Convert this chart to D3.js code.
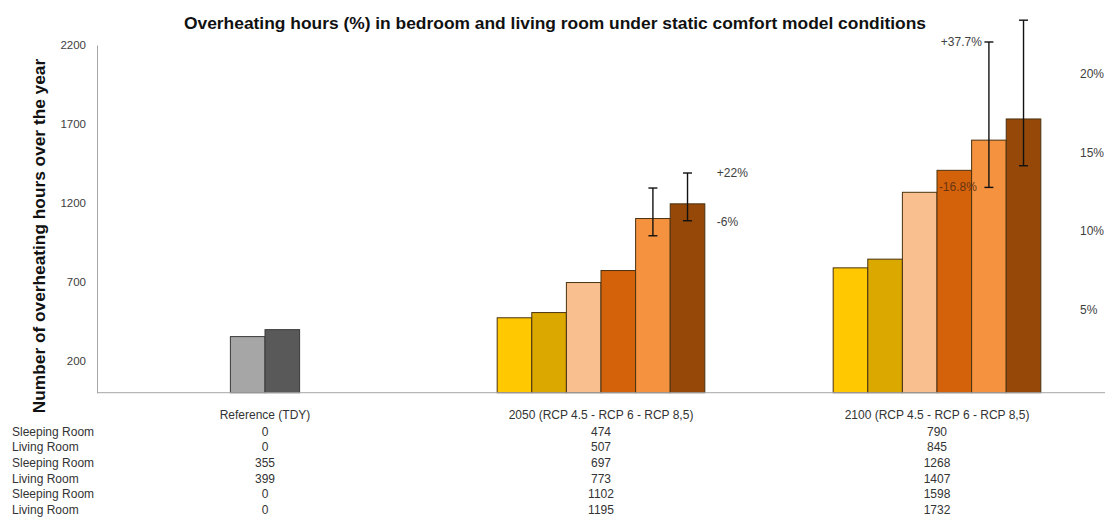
<!DOCTYPE html>
<html>
<head>
<meta charset="utf-8">
<script src="https://cdn.jsdelivr.net/npm/d3@7"></script>
<style>
  body { margin: 0; background: #fff; }
  text { font-family: "Liberation Sans", Arial, sans-serif; }
</style>
</head>
<body>
<script>
const width = 1107;
const height = 517;

// categories (table columns)
const categories = ["Reference (TDY)", "2050 (RCP 4.5 - RCP 6 - RCP 8,5)", "2100 (RCP 4.5 - RCP 6 - RCP 8,5)"];
const rowLabels = ["Sleeping Room", "Living Room", "Sleeping Room", "Living Room", "Sleeping Room", "Living Room"];

// hours per series, one value per category
const sleep45 = [0, 474, 790];
const living45 = [0, 507, 845];
const sleep60 = [355, 697, 1268];
const living60 = [399, 773, 1407];
const sleep85 = [0, 1102, 1598];
const living85 = [0, 1195, 1732];
const series = [sleep45, living45, sleep60, living60, sleep85, living85];

const seriesColors = ["#FFC800", "#DBA800", "#F9BF8F", "#D3620B", "#F59240", "#954808"];
const refColors = ["#A6A6A6", "#A6A6A6", "#A6A6A6", "#595959", "#595959", "#595959"];

// error bars (low / high) for the RCP 8.5 series
const errLowSleep85 = [null, 993, 1299];
const errHighSleep85 = [null, 1295, 2219];
const errLowLiving85 = [null, 1088, 1436];
const errHighLiving85 = [null, 1390, 2357];

const yTicks = [200, 700, 1200, 1700, 2200];
const pctTicks = [5, 10, 15, 20];

const svg = d3.select("body").append("svg")
    .attr("width", width)
    .attr("height", height);

const x = d3.scaleBand()
    .domain(categories)
    .range([97, 1105])
    .paddingInner(0.382)
    .paddingOuter(0.191);

const xs = d3.scaleBand()
    .domain(d3.range(series.length))
    .range([0, x.bandwidth()]);

const y = d3.scaleLinear().domain([0, 2200]).range([392.7, 45]);
const yPct = d3.scaleLinear().domain([0, 22]).range([388.5, 43]);

// title
svg.append("text")
    .attr("x", 555)
    .attr("y", 29)
    .attr("text-anchor", "middle")
    .attr("font-size", 17.4)
    .attr("font-weight", "bold")
    .attr("fill", "#111")
    .text("Overheating hours (%) in bedroom and living room under static comfort model conditions");

svg.append("text")
    .attr("transform", "translate(39,236) rotate(-90)")
    .attr("text-anchor", "middle")
    .attr("dominant-baseline", "central")
    .attr("font-size", 17.3)
    .attr("font-weight", "bold")
    .attr("fill", "#111")
    .text("Number of overheating hours over the year");

// left axis
const yAxis = svg.append("g")
    .attr("transform", "translate(97,0)")
    .call(d3.axisLeft(y).tickValues(yTicks).tickFormat(d3.format("d")).tickSize(0).tickPadding(11));
yAxis.select(".domain").attr("stroke", "#A6A6A6");
yAxis.selectAll("text").attr("font-size", 11.5).attr("fill", "#404040")
    .attr("font-family", "Liberation Sans, Arial, sans-serif");

// right axis labels only
svg.append("g").selectAll("text")
    .data(pctTicks)
    .join("text")
    .attr("x", 1080)
    .attr("y", d => yPct(d))
    .attr("dominant-baseline", "central")
    .attr("font-size", 12)
    .attr("fill", "#404040")
    .text(d => d + "%");

// bars
const groups = svg.append("g").selectAll("g")
    .data(categories)
    .join("g")
    .attr("transform", d => `translate(${x(d)},0)`);

groups.selectAll("rect")
    .data((c, ci) => series.map((s, si) => ({ci, si, v: s[ci]})).filter(d => d.v > 0))
    .join("rect")
    .attr("x", d => xs(d.si))
    .attr("y", d => y(d.v))
    .attr("width", xs.bandwidth())
    .attr("height", d => y(0) - y(d.v))
    .attr("fill", d => d.ci === 0 ? refColors[d.si] : seriesColors[d.si])
    .attr("stroke", d => d.ci === 0 ? "#3a3a3a" : "#4a3210")
    .attr("stroke-width", 1);

// baseline
svg.append("line")
    .attr("x1", 97).attr("x2", 1105)
    .attr("y1", y(0)).attr("y2", y(0))
    .attr("stroke", "#A6A6A6");

// error bars
const errs = [];
[[4, errLowSleep85, errHighSleep85], [5, errLowLiving85, errHighLiving85]].forEach(([si, lo, hi]) => {
    categories.forEach((c, ci) => {
        if (lo[ci] != null) errs.push({c, si, lo: lo[ci], hi: hi[ci]});
    });
});
const eb = svg.append("g").attr("stroke", "#111").attr("stroke-width", 1.4);
errs.forEach(e => {
    const cx = x(e.c) + xs(e.si) + xs.bandwidth() / 2;
    eb.append("line").attr("x1", cx).attr("x2", cx).attr("y1", y(e.lo)).attr("y2", y(e.hi));
    eb.append("line").attr("x1", cx - 4.5).attr("x2", cx + 4.5).attr("y1", y(e.lo)).attr("y2", y(e.lo));
    eb.append("line").attr("x1", cx - 4.5).attr("x2", cx + 4.5).attr("y1", y(e.hi)).attr("y2", y(e.hi));
});

// change labels next to error bars
const c50 = categories[1], c00 = categories[2];
const notes = [
    {t: "+22%", v: errHighLiving85[1], xx: x(c50) + xs(5) + xs.bandwidth() + 12, anchor: "start", fill: "#404040"},
    {t: "-6%", v: errLowLiving85[1] - 8, xx: x(c50) + xs(5) + xs.bandwidth() + 12, anchor: "start", fill: "#404040"},
    {t: "+37.7%", v: errHighSleep85[2], xx: x(c00) + xs(4) + xs.bandwidth() / 2 - 7, anchor: "end", fill: "#404040"},
    {t: "-16.8%", v: errLowSleep85[2], xx: x(c00) + xs(4) + xs.bandwidth() / 2 - 12, anchor: "end", fill: "#6a3412"}
];
svg.append("g").selectAll("text")
    .data(notes)
    .join("text")
    .attr("x", d => d.xx)
    .attr("y", d => y(d.v))
    .attr("text-anchor", d => d.anchor)
    .attr("dominant-baseline", "central")
    .attr("font-size", 12)
    .attr("fill", d => d.fill)
    .text(d => d.t);

// data table under the chart
svg.append("g").selectAll("text")
    .data(categories)
    .join("text")
    .attr("x", d => x(d) + x.bandwidth() / 2)
    .attr("y", 415)
    .attr("text-anchor", "middle")
    .attr("dominant-baseline", "central")
    .attr("font-size", 12)
    .attr("fill", "#333")
    .text(d => d);

const rowY = d3.scaleLinear().domain([0, 5]).range([431.5, 510]);

svg.append("g").selectAll("text")
    .data(rowLabels)
    .join("text")
    .attr("x", 12)
    .attr("y", (d, i) => rowY(i))
    .attr("dominant-baseline", "central")
    .attr("font-size", 12)
    .attr("fill", "#333")
    .text(d => d);

series.forEach((s, si) => {
    svg.append("g").selectAll("text")
        .data(s)
        .join("text")
        .attr("x", (d, ci) => x(categories[ci]) + x.bandwidth() / 2)
        .attr("y", rowY(si))
        .attr("text-anchor", "middle")
        .attr("dominant-baseline", "central")
        .attr("font-size", 12)
        .attr("fill", "#333")
        .text(d => d);
});
</script>
</body>
</html>
